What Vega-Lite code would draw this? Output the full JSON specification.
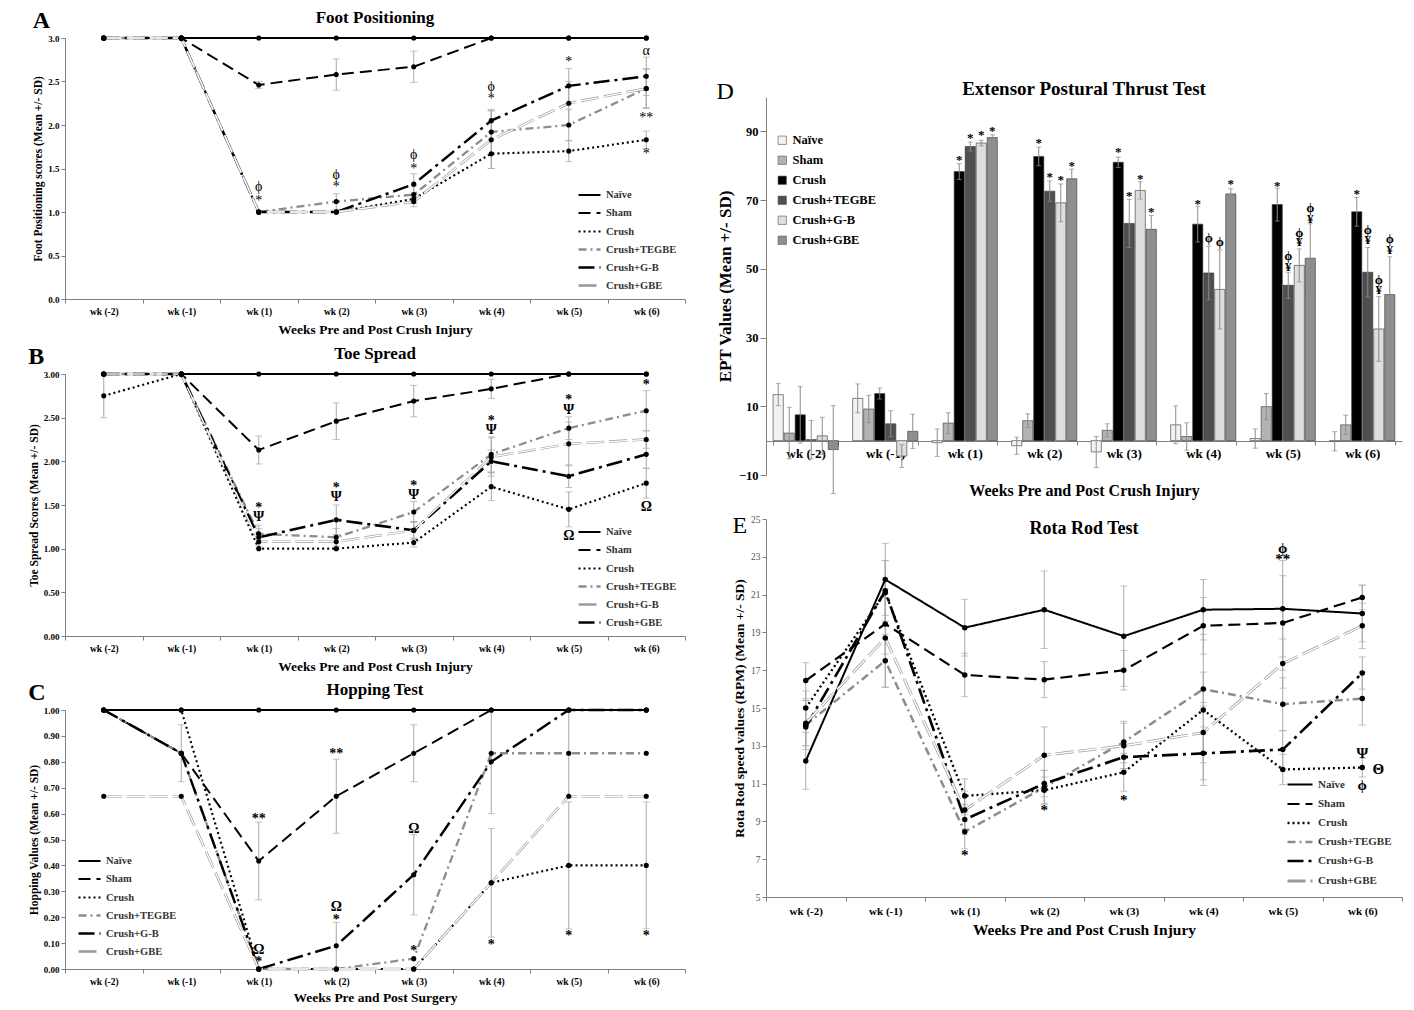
{
  "$schema": "https://vega.github.io/schema/vega-lite/v6.json",
  "background": "white",
  "padding": {"left": 28, "top": 8, "right": 5, "bottom": 3},
  "config": {
    "font": "Liberation Serif",
    "view": {"stroke": null},
    "axis": {"labelFont": "Liberation Serif", "titleFont": "Liberation Serif", "labelFontWeight": "bold", "titleFontWeight": "bold", "labelColor": "#000", "titleColor": "#000", "domainColor": "#808080", "tickColor": "#808080", "grid": false, "labelFontSize": 9.5, "titleFontSize": 12, "tickSize": 4},
    "title": {"font": "Liberation Serif", "fontWeight": "bold", "color": "#000"},
    "legend": {"labelFont": "Liberation Serif", "labelFontWeight": "bold", "labelColor": "#333"},
    "text": {"font": "Liberation Serif", "color": "#000"}
  },
  "datasets": {
    "A": [
      {"w":"wk (-2)","s":"Naïve","v":3,"e":0},{"w":"wk (-1)","s":"Naïve","v":3,"e":0},{"w":"wk (1)","s":"Naïve","v":3,"e":0},{"w":"wk (2)","s":"Naïve","v":3,"e":0},{"w":"wk (3)","s":"Naïve","v":3,"e":0},{"w":"wk (4)","s":"Naïve","v":3,"e":0},{"w":"wk (5)","s":"Naïve","v":3,"e":0},{"w":"wk (6)","s":"Naïve","v":3,"e":0},
      {"w":"wk (-2)","s":"Sham","v":3,"e":0},{"w":"wk (-1)","s":"Sham","v":3,"e":0},{"w":"wk (1)","s":"Sham","v":2.46,"e":0.04},{"w":"wk (2)","s":"Sham","v":2.58,"e":0.18},{"w":"wk (3)","s":"Sham","v":2.67,"e":0.18},{"w":"wk (4)","s":"Sham","v":3,"e":0},{"w":"wk (5)","s":"Sham","v":3,"e":0},{"w":"wk (6)","s":"Sham","v":3,"e":0},
      {"w":"wk (-2)","s":"Crush","v":3,"e":0},{"w":"wk (-1)","s":"Crush","v":3,"e":0},{"w":"wk (1)","s":"Crush","v":1,"e":0},{"w":"wk (2)","s":"Crush","v":1,"e":0},{"w":"wk (3)","s":"Crush","v":1.15,"e":0.05},{"w":"wk (4)","s":"Crush","v":1.67,"e":0.17},{"w":"wk (5)","s":"Crush","v":1.7,"e":0.12},{"w":"wk (6)","s":"Crush","v":1.83,"e":0.1},
      {"w":"wk (-2)","s":"Crush+TEGBE","v":3,"e":0},{"w":"wk (-1)","s":"Crush+TEGBE","v":3,"e":0},{"w":"wk (1)","s":"Crush+TEGBE","v":1,"e":0},{"w":"wk (2)","s":"Crush+TEGBE","v":1.12,"e":0.09},{"w":"wk (3)","s":"Crush+TEGBE","v":1.2,"e":0.1},{"w":"wk (4)","s":"Crush+TEGBE","v":1.92,"e":0.25},{"w":"wk (5)","s":"Crush+TEGBE","v":2.0,"e":0.18},{"w":"wk (6)","s":"Crush+TEGBE","v":2.42,"e":0.22},
      {"w":"wk (-2)","s":"Crush+G-B","v":3,"e":0},{"w":"wk (-1)","s":"Crush+G-B","v":3,"e":0},{"w":"wk (1)","s":"Crush+G-B","v":1,"e":0},{"w":"wk (2)","s":"Crush+G-B","v":1,"e":0},{"w":"wk (3)","s":"Crush+G-B","v":1.32,"e":0.12},{"w":"wk (4)","s":"Crush+G-B","v":2.05,"e":0.13},{"w":"wk (5)","s":"Crush+G-B","v":2.45,"e":0.2},{"w":"wk (6)","s":"Crush+G-B","v":2.56,"e":0.22},
      {"w":"wk (-2)","s":"Crush+GBE","v":3,"e":0},{"w":"wk (-1)","s":"Crush+GBE","v":3,"e":0},{"w":"wk (1)","s":"Crush+GBE","v":1,"e":0},{"w":"wk (2)","s":"Crush+GBE","v":1,"e":0},{"w":"wk (3)","s":"Crush+GBE","v":1.12,"e":0.06},{"w":"wk (4)","s":"Crush+GBE","v":1.83,"e":0.33},{"w":"wk (5)","s":"Crush+GBE","v":2.25,"e":0.25},{"w":"wk (6)","s":"Crush+GBE","v":2.42,"e":0.23}
    ],
    "annA": [
      {"w":"wk (1)","v":1.29,"t":"ϕ"},{"w":"wk (1)","v":1.13,"t":"*"},{"w":"wk (2)","v":1.42,"t":"ϕ"},{"w":"wk (2)","v":1.29,"t":"*"},{"w":"wk (3)","v":1.66,"t":"ϕ"},{"w":"wk (3)","v":1.5,"t":"*"},{"w":"wk (4)","v":2.44,"t":"ϕ"},{"w":"wk (4)","v":2.3,"t":"*"},{"w":"wk (5)","v":2.72,"t":"*"},{"w":"wk (6)","v":2.85,"t":"α"},{"w":"wk (6)","v":2.08,"t":"**"},{"w":"wk (6)","v":1.67,"t":"*"}
    ],
    "B": [
      {"w":"wk (-2)","s":"Naïve","v":3,"e":0},{"w":"wk (-1)","s":"Naïve","v":3,"e":0},{"w":"wk (1)","s":"Naïve","v":3,"e":0},{"w":"wk (2)","s":"Naïve","v":3,"e":0},{"w":"wk (3)","s":"Naïve","v":3,"e":0},{"w":"wk (4)","s":"Naïve","v":3,"e":0},{"w":"wk (5)","s":"Naïve","v":3,"e":0},{"w":"wk (6)","s":"Naïve","v":3,"e":0},
      {"w":"wk (-2)","s":"Sham","v":3,"e":0},{"w":"wk (-1)","s":"Sham","v":3,"e":0},{"w":"wk (1)","s":"Sham","v":2.13,"e":0.16},{"w":"wk (2)","s":"Sham","v":2.46,"e":0.21},{"w":"wk (3)","s":"Sham","v":2.69,"e":0.18},{"w":"wk (4)","s":"Sham","v":2.83,"e":0.11},{"w":"wk (5)","s":"Sham","v":3,"e":0},{"w":"wk (6)","s":"Sham","v":3,"e":0},
      {"w":"wk (-2)","s":"Crush","v":2.75,"e":0.25},{"w":"wk (-1)","s":"Crush","v":3,"e":0},{"w":"wk (1)","s":"Crush","v":1,"e":0},{"w":"wk (2)","s":"Crush","v":1,"e":0},{"w":"wk (3)","s":"Crush","v":1.07,"e":0.05},{"w":"wk (4)","s":"Crush","v":1.71,"e":0.16},{"w":"wk (5)","s":"Crush","v":1.45,"e":0.2},{"w":"wk (6)","s":"Crush","v":1.75,"e":0.17},
      {"w":"wk (-2)","s":"Crush+TEGBE","v":3,"e":0},{"w":"wk (-1)","s":"Crush+TEGBE","v":3,"e":0},{"w":"wk (1)","s":"Crush+TEGBE","v":1.17,"e":0.1},{"w":"wk (2)","s":"Crush+TEGBE","v":1.13,"e":0.1},{"w":"wk (3)","s":"Crush+TEGBE","v":1.42,"e":0.12},{"w":"wk (4)","s":"Crush+TEGBE","v":2.08,"e":0.2},{"w":"wk (5)","s":"Crush+TEGBE","v":2.38,"e":0.13},{"w":"wk (6)","s":"Crush+TEGBE","v":2.58,"e":0.23},
      {"w":"wk (-2)","s":"Crush+G-B","v":3,"e":0},{"w":"wk (-1)","s":"Crush+G-B","v":3,"e":0},{"w":"wk (1)","s":"Crush+G-B","v":1.08,"e":0.08},{"w":"wk (2)","s":"Crush+G-B","v":1.08,"e":0.08},{"w":"wk (3)","s":"Crush+G-B","v":1.21,"e":0.1},{"w":"wk (4)","s":"Crush+G-B","v":2.05,"e":0.22},{"w":"wk (5)","s":"Crush+G-B","v":2.2,"e":0.25},{"w":"wk (6)","s":"Crush+G-B","v":2.25,"e":0.1},
      {"w":"wk (-2)","s":"Crush+GBE","v":3,"e":0},{"w":"wk (-1)","s":"Crush+GBE","v":3,"e":0},{"w":"wk (1)","s":"Crush+GBE","v":1.13,"e":0.1},{"w":"wk (2)","s":"Crush+GBE","v":1.33,"e":0.17},{"w":"wk (3)","s":"Crush+GBE","v":1.21,"e":0.1},{"w":"wk (4)","s":"Crush+GBE","v":2.0,"e":0.13},{"w":"wk (5)","s":"Crush+GBE","v":1.83,"e":0.13},{"w":"wk (6)","s":"Crush+GBE","v":2.08,"e":0.16}
    ],
    "annB": [
      {"w":"wk (1)","v":1.47,"t":"*"},{"w":"wk (1)","v":1.36,"t":"Ψ"},{"w":"wk (2)","v":1.69,"t":"*"},{"w":"wk (2)","v":1.59,"t":"Ψ"},{"w":"wk (3)","v":1.72,"t":"*"},{"w":"wk (3)","v":1.61,"t":"Ψ"},{"w":"wk (4)","v":2.46,"t":"*"},{"w":"wk (4)","v":2.36,"t":"Ψ"},{"w":"wk (5)","v":2.7,"t":"*"},{"w":"wk (5)","v":2.59,"t":"Ψ"},{"w":"wk (5)","v":1.15,"t":"Ω"},{"w":"wk (6)","v":2.87,"t":"*"},{"w":"wk (6)","v":1.48,"t":"Ω"}
    ],
    "C": [
      {"w":"wk (-2)","s":"Naïve","v":1,"e":0},{"w":"wk (-1)","s":"Naïve","v":1,"e":0},{"w":"wk (1)","s":"Naïve","v":1,"e":0},{"w":"wk (2)","s":"Naïve","v":1,"e":0},{"w":"wk (3)","s":"Naïve","v":1,"e":0},{"w":"wk (4)","s":"Naïve","v":1,"e":0},{"w":"wk (5)","s":"Naïve","v":1,"e":0},{"w":"wk (6)","s":"Naïve","v":1,"e":0},
      {"w":"wk (-2)","s":"Sham","v":1,"e":0},{"w":"wk (-1)","s":"Sham","v":0.833,"e":0.11},{"w":"wk (1)","s":"Sham","v":0.417,"e":0.15},{"w":"wk (2)","s":"Sham","v":0.667,"e":0.143},{"w":"wk (3)","s":"Sham","v":0.833,"e":0.11},{"w":"wk (4)","s":"Sham","v":1,"e":0},{"w":"wk (5)","s":"Sham","v":1,"e":0},{"w":"wk (6)","s":"Sham","v":1,"e":0},
      {"w":"wk (-2)","s":"Crush","v":1,"e":0},{"w":"wk (-1)","s":"Crush","v":1,"e":0},{"w":"wk (1)","s":"Crush","v":0,"e":0},{"w":"wk (2)","s":"Crush","v":0,"e":0},{"w":"wk (3)","s":"Crush","v":0,"e":0},{"w":"wk (4)","s":"Crush","v":0.333,"e":0.21},{"w":"wk (5)","s":"Crush","v":0.4,"e":0.245},{"w":"wk (6)","s":"Crush","v":0.4,"e":0.245},
      {"w":"wk (-2)","s":"Crush+TEGBE","v":1,"e":0},{"w":"wk (-1)","s":"Crush+TEGBE","v":0.833,"e":0},{"w":"wk (1)","s":"Crush+TEGBE","v":0,"e":0},{"w":"wk (2)","s":"Crush+TEGBE","v":0,"e":0},{"w":"wk (3)","s":"Crush+TEGBE","v":0.04,"e":0},{"w":"wk (4)","s":"Crush+TEGBE","v":0.833,"e":0},{"w":"wk (5)","s":"Crush+TEGBE","v":0.833,"e":0.17},{"w":"wk (6)","s":"Crush+TEGBE","v":0.833,"e":0},
      {"w":"wk (-2)","s":"Crush+G-B","v":1,"e":0},{"w":"wk (-1)","s":"Crush+G-B","v":0.833,"e":0},{"w":"wk (1)","s":"Crush+G-B","v":0,"e":0},{"w":"wk (2)","s":"Crush+G-B","v":0.09,"e":0.09},{"w":"wk (3)","s":"Crush+G-B","v":0.364,"e":0.155},{"w":"wk (4)","s":"Crush+G-B","v":0.8,"e":0.2},{"w":"wk (5)","s":"Crush+G-B","v":1,"e":0},{"w":"wk (6)","s":"Crush+G-B","v":1,"e":0},
      {"w":"wk (-2)","s":"Crush+GBE","v":0.667,"e":0},{"w":"wk (-1)","s":"Crush+GBE","v":0.667,"e":0},{"w":"wk (1)","s":"Crush+GBE","v":0,"e":0},{"w":"wk (2)","s":"Crush+GBE","v":0,"e":0},{"w":"wk (3)","s":"Crush+GBE","v":0,"e":0},{"w":"wk (4)","s":"Crush+GBE","v":0.333,"e":0},{"w":"wk (5)","s":"Crush+GBE","v":0.667,"e":0},{"w":"wk (6)","s":"Crush+GBE","v":0.667,"e":0}
    ],
    "annC": [
      {"w":"wk (1)","v":0.58,"t":"**"},{"w":"wk (1)","v":0.072,"t":"Ω"},{"w":"wk (1)","v":0.026,"t":"*"},{"w":"wk (2)","v":0.83,"t":"**"},{"w":"wk (2)","v":0.24,"t":"Ω"},{"w":"wk (2)","v":0.19,"t":"*"},{"w":"wk (3)","v":0.54,"t":"Ω"},{"w":"wk (3)","v":0.068,"t":"*"},{"w":"wk (4)","v":0.094,"t":"*"},{"w":"wk (5)","v":0.126,"t":"*"},{"w":"wk (6)","v":0.126,"t":"*"}
    ],
    "D": [
      {"w":"wk (-2)","s":"Naïve","v":13.4,"e":3.2},{"w":"wk (-2)","s":"Sham","v":2.2,"e":7.5},{"w":"wk (-2)","s":"Crush","v":7.5,"e":8.2},{"w":"wk (-2)","s":"Crush+TEGBE","v":0.3,"e":5.6},{"w":"wk (-2)","s":"Crush+G-B","v":1.4,"e":5.4},{"w":"wk (-2)","s":"Crush+GBE","v":-2.6,"e":12.8},
      {"w":"wk (-1)","s":"Naïve","v":12.3,"e":4.2},{"w":"wk (-1)","s":"Sham","v":9.2,"e":4},{"w":"wk (-1)","s":"Crush","v":13.7,"e":1.6},{"w":"wk (-1)","s":"Crush+TEGBE","v":4.9,"e":3.8},{"w":"wk (-1)","s":"Crush+G-B","v":-4.5,"e":3.3},{"w":"wk (-1)","s":"Crush+GBE","v":2.7,"e":5},
      {"w":"wk (1)","s":"Naïve","v":-0.6,"e":4},{"w":"wk (1)","s":"Sham","v":5.1,"e":3},{"w":"wk (1)","s":"Crush","v":78.3,"e":2.3},{"w":"wk (1)","s":"Crush+TEGBE","v":85.6,"e":1.3},{"w":"wk (1)","s":"Crush+G-B","v":86.6,"e":0.8},{"w":"wk (1)","s":"Crush+GBE","v":88.2,"e":0.8},
      {"w":"wk (2)","s":"Naïve","v":-1.5,"e":2.5},{"w":"wk (2)","s":"Sham","v":5.8,"e":2},{"w":"wk (2)","s":"Crush","v":82.7,"e":2.7},{"w":"wk (2)","s":"Crush+TEGBE","v":72.6,"e":3},{"w":"wk (2)","s":"Crush+G-B","v":69.2,"e":5.5},{"w":"wk (2)","s":"Crush+GBE","v":76.2,"e":2.8},
      {"w":"wk (3)","s":"Naïve","v":-3.3,"e":4.5},{"w":"wk (3)","s":"Sham","v":3,"e":1.9},{"w":"wk (3)","s":"Crush","v":81,"e":1.5},{"w":"wk (3)","s":"Crush+TEGBE","v":63.2,"e":7},{"w":"wk (3)","s":"Crush+G-B","v":72.8,"e":2.5},{"w":"wk (3)","s":"Crush+GBE","v":61.5,"e":4},
      {"w":"wk (4)","s":"Naïve","v":4.6,"e":5.5},{"w":"wk (4)","s":"Sham","v":1.2,"e":4},{"w":"wk (4)","s":"Crush","v":63,"e":5.2},{"w":"wk (4)","s":"Crush+TEGBE","v":48.8,"e":7.8},{"w":"wk (4)","s":"Crush+G-B","v":44,"e":11.5},{"w":"wk (4)","s":"Crush+GBE","v":71.8,"e":1.5},
      {"w":"wk (5)","s":"Naïve","v":0.6,"e":2.8},{"w":"wk (5)","s":"Sham","v":9.9,"e":3.8},{"w":"wk (5)","s":"Crush","v":68.7,"e":4.8},{"w":"wk (5)","s":"Crush+TEGBE","v":45.2,"e":3.8},{"w":"wk (5)","s":"Crush+G-B","v":51,"e":4.8},{"w":"wk (5)","s":"Crush+GBE","v":53.1,"e":10},
      {"w":"wk (6)","s":"Naïve","v":-0.2,"e":2.8},{"w":"wk (6)","s":"Sham","v":4.6,"e":2.8},{"w":"wk (6)","s":"Crush","v":66.6,"e":4.2},{"w":"wk (6)","s":"Crush+TEGBE","v":49,"e":7.2},{"w":"wk (6)","s":"Crush+G-B","v":32.5,"e":9.4},{"w":"wk (6)","s":"Crush+GBE","v":42.5,"e":11}
    ],
    "annD": [
      {"w":"wk (1)","s":"Crush","v":81.7,"t":"*"},{"w":"wk (1)","s":"Crush+TEGBE","v":88,"t":"*"},{"w":"wk (1)","s":"Crush+G-B","v":89,"t":"*"},{"w":"wk (1)","s":"Crush+GBE","v":90.1,"t":"*"},
      {"w":"wk (2)","s":"Crush","v":86.5,"t":"*"},{"w":"wk (2)","s":"Crush+TEGBE","v":76.7,"t":"*"},{"w":"wk (2)","s":"Crush+G-B","v":75.9,"t":"*"},{"w":"wk (2)","s":"Crush+GBE","v":80,"t":"*"},
      {"w":"wk (3)","s":"Crush","v":83.9,"t":"*"},{"w":"wk (3)","s":"Crush+TEGBE","v":71.1,"t":"*"},{"w":"wk (3)","s":"Crush+G-B","v":76.2,"t":"*"},{"w":"wk (3)","s":"Crush+GBE","v":66.4,"t":"*"},
      {"w":"wk (4)","s":"Crush","v":69,"t":"*"},{"w":"wk (4)","s":"Crush+TEGBE","v":58.9,"t":"ϕ"},{"w":"wk (4)","s":"Crush+G-B","v":57.7,"t":"ϕ"},{"w":"wk (4)","s":"Crush+GBE","v":74.7,"t":"*"},
      {"w":"wk (5)","s":"Crush","v":74.1,"t":"*"},{"w":"wk (5)","s":"Crush+TEGBE","v":53.6,"t":"ϕ"},{"w":"wk (5)","s":"Crush+TEGBE","v":50.4,"t":"¥"},{"w":"wk (5)","s":"Crush+G-B","v":60.5,"t":"ϕ"},{"w":"wk (5)","s":"Crush+G-B","v":57.9,"t":"¥"},{"w":"wk (5)","s":"Crush+GBE","v":67.7,"t":"ϕ"},{"w":"wk (5)","s":"Crush+GBE","v":64.4,"t":"¥"},
      {"w":"wk (6)","s":"Crush","v":71.8,"t":"*"},{"w":"wk (6)","s":"Crush+TEGBE","v":61.3,"t":"ϕ"},{"w":"wk (6)","s":"Crush+TEGBE","v":58.4,"t":"¥"},{"w":"wk (6)","s":"Crush+G-B","v":46.7,"t":"ϕ"},{"w":"wk (6)","s":"Crush+G-B","v":43.7,"t":"¥"},{"w":"wk (6)","s":"Crush+GBE","v":58.7,"t":"ϕ"},{"w":"wk (6)","s":"Crush+GBE","v":55.5,"t":"¥"}
    ],
    "E": [
      {"w":"wk (-2)","s":"Naïve","v":12.2,"e":1.5},{"w":"wk (-1)","s":"Naïve","v":21.8,"e":1.9},{"w":"wk (1)","s":"Naïve","v":19.25,"e":1.5},{"w":"wk (2)","s":"Naïve","v":20.2,"e":2.05},{"w":"wk (3)","s":"Naïve","v":18.8,"e":2.65},{"w":"wk (4)","s":"Naïve","v":20.2,"e":1.6},{"w":"wk (5)","s":"Naïve","v":20.25,"e":2.55},{"w":"wk (6)","s":"Naïve","v":20.0,"e":1.5},
      {"w":"wk (-2)","s":"Sham","v":16.45,"e":0.95},{"w":"wk (-1)","s":"Sham","v":19.45,"e":1.6},{"w":"wk (1)","s":"Sham","v":16.75,"e":1.15},{"w":"wk (2)","s":"Sham","v":16.5,"e":0.95},{"w":"wk (3)","s":"Sham","v":17.0,"e":1.05},{"w":"wk (4)","s":"Sham","v":19.35,"e":1.5},{"w":"wk (5)","s":"Sham","v":19.5,"e":2.5},{"w":"wk (6)","s":"Sham","v":20.85,"e":0.65},
      {"w":"wk (-2)","s":"Crush","v":15.0,"e":0.9},{"w":"wk (-1)","s":"Crush","v":21.1,"e":1.7},{"w":"wk (1)","s":"Crush","v":10.35,"e":0.9},{"w":"wk (2)","s":"Crush","v":10.65,"e":0.7},{"w":"wk (3)","s":"Crush","v":11.6,"e":1.0},{"w":"wk (4)","s":"Crush","v":14.9,"e":4.0},{"w":"wk (5)","s":"Crush","v":11.75,"e":0.8},{"w":"wk (6)","s":"Crush","v":11.85,"e":0.5},
      {"w":"wk (-2)","s":"Crush+TEGBE","v":14.1,"e":1.3},{"w":"wk (-1)","s":"Crush+TEGBE","v":17.5,"e":1.4},{"w":"wk (1)","s":"Crush+TEGBE","v":8.45,"e":0.9},{"w":"wk (2)","s":"Crush+TEGBE","v":10.8,"e":0.9},{"w":"wk (3)","s":"Crush+TEGBE","v":13.2,"e":1.1},{"w":"wk (4)","s":"Crush+TEGBE","v":16.0,"e":0.9},{"w":"wk (5)","s":"Crush+TEGBE","v":15.2,"e":1.4},{"w":"wk (6)","s":"Crush+TEGBE","v":15.5,"e":1.4},
      {"w":"wk (-2)","s":"Crush+G-B","v":14.0,"e":1.0},{"w":"wk (-1)","s":"Crush+G-B","v":21.2,"e":1.6},{"w":"wk (1)","s":"Crush+G-B","v":9.1,"e":0.8},{"w":"wk (2)","s":"Crush+G-B","v":11.0,"e":0.7},{"w":"wk (3)","s":"Crush+G-B","v":12.4,"e":0.6},{"w":"wk (4)","s":"Crush+G-B","v":12.6,"e":1.4},{"w":"wk (5)","s":"Crush+G-B","v":12.8,"e":1.0},{"w":"wk (6)","s":"Crush+G-B","v":16.85,"e":0.85},
      {"w":"wk (-2)","s":"Crush+GBE","v":14.2,"e":1.2},{"w":"wk (-1)","s":"Crush+GBE","v":18.7,"e":2.6},{"w":"wk (1)","s":"Crush+GBE","v":9.6,"e":1.0},{"w":"wk (2)","s":"Crush+GBE","v":12.5,"e":1.5},{"w":"wk (3)","s":"Crush+GBE","v":13.0,"e":1.2},{"w":"wk (4)","s":"Crush+GBE","v":13.7,"e":1.6},{"w":"wk (5)","s":"Crush+GBE","v":17.35,"e":1.3},{"w":"wk (6)","s":"Crush+GBE","v":19.35,"e":1.2}
    ],
    "annE": [
      {"w":"wk (1)","v":7.2,"t":"*"},{"w":"wk (2)","v":9.6,"t":"*"},{"w":"wk (3)","v":10.15,"t":"*"},{"w":"wk (5)","v":23.47,"t":"ϕ"},{"w":"wk (5)","v":22.9,"t":"**"},{"w":"wk (6)","v":12.6,"t":"Ψ"},{"w":"wk (6)","v":10.9,"t":"ϕ"}
    ],
    "annE2": [
      {"w":"wk (6)","v":11.75,"t":"Θ"}
    ]
  },
  "resolve": {"scale": {"x": "independent", "y": "independent", "color": "independent", "strokeDash": "independent", "strokeWidth": "independent", "fill": "independent"}, "legend": {"color": "independent", "strokeDash": "independent", "strokeWidth": "independent", "fill": "independent"}},
  "spacing": 30,
  "hconcat": [
    {
      "spacing": 8,
      "resolve": {"scale": {"x": "independent", "y": "independent", "color": "independent", "strokeDash": "independent", "strokeWidth": "independent", "fill": "independent"}, "legend": {"color": "independent", "strokeDash": "independent", "strokeWidth": "independent", "fill": "independent"}},
      "vconcat": [
        {
          "title": {"text": "A", "anchor": "start", "fontSize": 24, "offset": -24},
          "resolve": {"scale": {"x": "independent", "y": "independent", "color": "independent", "strokeDash": "independent", "strokeWidth": "independent"}, "legend": {"color": "independent", "strokeDash": "independent", "strokeWidth": "independent"}},
          "vconcat": [{
            "width": 620, "height": 261,
            "title": {"text": "Foot Positioning", "fontSize": 17, "offset": 6},
            "data": {"name": "A"},
            "encoding": {
              "x": {"field": "w", "type": "ordinal", "bandPosition": 0.5, "scale": {"type": "band", "domain": ["wk (-2)","wk (-1)","wk (1)","wk (2)","wk (3)","wk (4)","wk (5)","wk (6)"], "paddingInner": 0, "paddingOuter": 0}, "axis": {"title": "Weeks Pre and Post Crush Injury", "labelAngle": 0, "tickBand": "extent", "titleFontSize": 13.5, "titlePadding": 7, "labelPadding": 3}},
              "y": {"field": "v", "type": "quantitative", "scale": {"domain": [0, 3], "nice": false}, "axis": {"title": "Foot Positioning scores (Mean +/- SD)", "values": [0, 0.5, 1, 1.5, 2, 2.5, 3], "format": ".1f", "labelFontSize": 9, "titleFontSize": 11.5}}
            },
            "layer": [
              {"transform": [{"filter": "datum.e > 0"}], "mark": {"type": "errorbar", "ticks": {"size": 7}, "color": "#a8a8a8"}, "encoding": {"yError": {"field": "e"}}},
              {"mark": {"type": "line"}, "encoding": {
                "color": {"field": "s", "type": "nominal", "scale": {"domain": ["Naïve","Sham","Crush","Crush+TEGBE","Crush+G-B","Crush+GBE"], "range": ["#000","#000","#000","#8c8c8c","#000","#9a9a9a"]}, "legend": {"title": null, "orient": "bottom-right", "offset": 8, "symbolType": "stroke", "symbolSize": 484, "labelFontSize": 10.5, "rowPadding": -12}},
                "strokeDash": {"field": "s", "type": "nominal", "scale": {"domain": ["Naïve","Sham","Crush","Crush+TEGBE","Crush+G-B","Crush+GBE"], "range": [[1,0],[12,6],[2,3],[8,4,2,4],[16,5,3,5],[18,5]]}, "legend": {"title": null, "orient": "bottom-right", "offset": 8, "symbolType": "stroke", "symbolSize": 484, "labelFontSize": 10.5, "rowPadding": -12}},
                "strokeWidth": {"field": "s", "type": "nominal", "scale": {"domain": ["Naïve","Sham","Crush","Crush+TEGBE","Crush+G-B","Crush+GBE"], "range": [1.8,2.6,1.6,2,2.2,4]}, "legend": {"title": null, "orient": "bottom-right", "offset": 8, "symbolType": "stroke", "symbolSize": 484, "labelFontSize": 10.5, "rowPadding": -12}}
              }},
              {"transform": [{"filter": "datum.s == 'Crush+GBE'"}], "mark": {"type": "line", "color": "white", "strokeWidth": 1.3, "strokeDash": [18,5]}},
              {"mark": {"type": "circle", "color": "#000", "size": 26, "opacity": 1}, "encoding": {"detail": {"field": "s"}}},
              {"data": {"name": "annA"}, "mark": {"type": "text", "fontSize": 14, "baseline": "middle", "color": "#000"}, "encoding": {"text": {"field": "t"}}}
            ]
          }]
        },
        {
          "title": {"text": "B", "anchor": "start", "fontSize": 24, "offset": -24},
          "resolve": {"scale": {"x": "independent", "y": "independent", "color": "independent", "strokeDash": "independent", "strokeWidth": "independent"}, "legend": {"color": "independent", "strokeDash": "independent", "strokeWidth": "independent"}},
          "vconcat": [{
            "width": 620, "height": 262,
            "title": {"text": "Toe Spread", "fontSize": 17, "offset": 6},
            "data": {"name": "B"},
            "encoding": {
              "x": {"field": "w", "type": "ordinal", "bandPosition": 0.5, "scale": {"type": "band", "domain": ["wk (-2)","wk (-1)","wk (1)","wk (2)","wk (3)","wk (4)","wk (5)","wk (6)"], "paddingInner": 0, "paddingOuter": 0}, "axis": {"title": "Weeks Pre and Post Crush Injury", "labelAngle": 0, "tickBand": "extent", "titleFontSize": 13.5, "titlePadding": 7, "labelPadding": 3}},
              "y": {"field": "v", "type": "quantitative", "scale": {"domain": [0, 3], "nice": false}, "axis": {"title": "Toe Spread Scores (Mean +/- SD)", "values": [0, 0.5, 1, 1.5, 2, 2.5, 3], "format": ".2f", "labelFontSize": 9, "titleFontSize": 11.5}}
            },
            "layer": [
              {"transform": [{"filter": "datum.e > 0"}], "mark": {"type": "errorbar", "ticks": {"size": 7}, "color": "#a8a8a8"}, "encoding": {"yError": {"field": "e"}}},
              {"mark": {"type": "line"}, "encoding": {
                "color": {"field": "s", "type": "nominal", "scale": {"domain": ["Naïve","Sham","Crush","Crush+TEGBE","Crush+G-B","Crush+GBE"], "range": ["#000","#000","#000","#8c8c8c","#9a9a9a","#000"]}, "legend": {"title": null, "orient": "bottom-right", "offset": 8, "symbolType": "stroke", "symbolSize": 484, "labelFontSize": 10.5, "rowPadding": -12}},
                "strokeDash": {"field": "s", "type": "nominal", "scale": {"domain": ["Naïve","Sham","Crush","Crush+TEGBE","Crush+G-B","Crush+GBE"], "range": [[1,0],[12,6],[2,3],[8,4,2,4],[18,5],[16,5,3,5]]}, "legend": {"title": null, "orient": "bottom-right", "offset": 8, "symbolType": "stroke", "symbolSize": 484, "labelFontSize": 10.5, "rowPadding": -12}},
                "strokeWidth": {"field": "s", "type": "nominal", "scale": {"domain": ["Naïve","Sham","Crush","Crush+TEGBE","Crush+G-B","Crush+GBE"], "range": [1.8,2.6,1.6,2,4,2.4]}, "legend": {"title": null, "orient": "bottom-right", "offset": 8, "symbolType": "stroke", "symbolSize": 484, "labelFontSize": 10.5, "rowPadding": -12}}
              }},
              {"transform": [{"filter": "datum.s == 'Crush+G-B'"}], "mark": {"type": "line", "color": "white", "strokeWidth": 1.3, "strokeDash": [18,5]}},
              {"mark": {"type": "circle", "color": "#000", "size": 26, "opacity": 1}, "encoding": {"detail": {"field": "s"}}},
              {"data": {"name": "annB"}, "mark": {"type": "text", "fontSize": 14, "fontWeight": "bold", "baseline": "middle", "color": "#000"}, "encoding": {"text": {"field": "t"}}}
            ]
          }]
        },
        {
          "title": {"text": "C", "anchor": "start", "fontSize": 24, "offset": -24},
          "resolve": {"scale": {"x": "independent", "y": "independent", "color": "independent", "strokeDash": "independent", "strokeWidth": "independent"}, "legend": {"color": "independent", "strokeDash": "independent", "strokeWidth": "independent"}},
          "vconcat": [{
            "width": 620, "height": 259,
            "title": {"text": "Hopping Test", "fontSize": 17, "offset": 6},
            "data": {"name": "C"},
            "encoding": {
              "x": {"field": "w", "type": "ordinal", "bandPosition": 0.5, "scale": {"type": "band", "domain": ["wk (-2)","wk (-1)","wk (1)","wk (2)","wk (3)","wk (4)","wk (5)","wk (6)"], "paddingInner": 0, "paddingOuter": 0}, "axis": {"title": "Weeks Pre and Post Surgery", "labelAngle": 0, "tickBand": "extent", "titleFontSize": 13.5, "titlePadding": 5, "labelPadding": 3}},
              "y": {"field": "v", "type": "quantitative", "scale": {"domain": [0, 1], "nice": false}, "axis": {"title": "Hopping Values (Mean +/- SD)", "values": [0, 0.1, 0.2, 0.3, 0.4, 0.5, 0.6, 0.7, 0.8, 0.9, 1], "format": ".2f", "labelFontSize": 9, "titleFontSize": 11.5}}
            },
            "layer": [
              {"transform": [{"filter": "datum.e > 0"}], "mark": {"type": "errorbar", "ticks": {"size": 7}, "color": "#a8a8a8"}, "encoding": {"yError": {"field": "e"}}},
              {"mark": {"type": "line"}, "encoding": {
                "color": {"field": "s", "type": "nominal", "scale": {"domain": ["Naïve","Sham","Crush","Crush+TEGBE","Crush+G-B","Crush+GBE"], "range": ["#000","#000","#000","#8c8c8c","#000","#9a9a9a"]}, "legend": {"title": null, "orient": "bottom-left", "offset": 12, "symbolType": "stroke", "symbolSize": 484, "labelFontSize": 10.5, "rowPadding": -12}},
                "strokeDash": {"field": "s", "type": "nominal", "scale": {"domain": ["Naïve","Sham","Crush","Crush+TEGBE","Crush+G-B","Crush+GBE"], "range": [[1,0],[12,6],[2,3],[8,4,2,4],[16,5,3,5],[18,5]]}, "legend": {"title": null, "orient": "bottom-left", "offset": 12, "symbolType": "stroke", "symbolSize": 484, "labelFontSize": 10.5, "rowPadding": -12}},
                "strokeWidth": {"field": "s", "type": "nominal", "scale": {"domain": ["Naïve","Sham","Crush","Crush+TEGBE","Crush+G-B","Crush+GBE"], "range": [1.8,2.6,1.6,2,2.2,4]}, "legend": {"title": null, "orient": "bottom-left", "offset": 12, "symbolType": "stroke", "symbolSize": 484, "labelFontSize": 10.5, "rowPadding": -12}}
              }},
              {"transform": [{"filter": "datum.s == 'Crush+GBE'"}], "mark": {"type": "line", "color": "white", "strokeWidth": 1.3, "strokeDash": [18,5]}},
              {"mark": {"type": "circle", "color": "#000", "size": 26, "opacity": 1}, "encoding": {"detail": {"field": "s"}}},
              {"data": {"name": "annC"}, "mark": {"type": "text", "fontSize": 14, "fontWeight": "bold", "baseline": "middle", "color": "#000"}, "encoding": {"text": {"field": "t"}}}
            ]
          }]
        }
      ]
    },
    {
      "spacing": 16,
      "resolve": {"scale": {"x": "independent", "y": "independent", "color": "independent", "strokeDash": "independent", "strokeWidth": "independent", "fill": "independent"}, "legend": {"color": "independent", "strokeDash": "independent", "strokeWidth": "independent", "fill": "independent"}},
      "vconcat": [
        {"width": 636, "height": 26, "data": {"values": []}, "mark": "point"},
        {
          "title": {"text": "D", "anchor": "start", "fontSize": 24, "fontWeight": "normal", "offset": -24},
          "resolve": {"scale": {"x": "independent", "y": "independent", "fill": "independent"}, "legend": {"fill": "independent"}},
          "vconcat": [{
            "width": 636, "height": 378,
            "title": {"text": "Extensor Postural Thrust Test", "fontSize": 19, "offset": -2},
            "data": {"name": "D"},
            "encoding": {
              "x": {"field": "w", "type": "ordinal", "scale": {"type": "band", "domain": ["wk (-2)","wk (-1)","wk (1)","wk (2)","wk (3)","wk (4)","wk (5)","wk (6)"], "paddingInner": 0.18, "paddingOuter": 0.09}, "axis": {"title": "Weeks Pre and Post Crush Injury", "labelAngle": 0, "tickBand": "extent", "offset": -34, "labelFontSize": 13, "titleFontSize": 16, "titlePadding": 22, "labelPadding": 2}},
              "xOffset": {"field": "s", "type": "nominal", "scale": {"domain": ["Naïve","Sham","Crush","Crush+TEGBE","Crush+G-B","Crush+GBE"], "paddingInner": 0.08}},
              "y": {"field": "v", "type": "quantitative", "scale": {"domain": [-10, 100], "nice": false}, "axis": {"title": "EPT Values (Mean +/- SD)", "values": [-10, 10, 30, 50, 70, 90], "labelFontSize": 12.5, "titleFontSize": 17, "tickSize": 6}}
            },
            "layer": [
              {"mark": {"type": "bar", "stroke": "#333", "strokeWidth": 0.6}, "encoding": {"fill": {"field": "s", "type": "nominal", "scale": {"domain": ["Naïve","Sham","Crush","Crush+TEGBE","Crush+G-B","Crush+GBE"], "range": ["#f2f2f2","#b3b3b3","#000000","#4f4f4f","#dedede","#8f8f8f"]}, "legend": {"title": null, "orient": "none", "legendX": 10, "legendY": 37, "symbolType": "square", "symbolSize": 70, "symbolStrokeColor": "#555", "symbolStrokeWidth": 0.6, "labelFontSize": 12.5, "labelColor": "#000", "rowPadding": 7}}}},
              {"mark": {"type": "errorbar", "ticks": {"size": 5}, "color": "#8c8c8c"}, "encoding": {"yError": {"field": "e"}}},
              {"data": {"name": "annD"}, "mark": {"type": "text", "fontSize": 13, "fontWeight": "bold", "baseline": "middle", "color": "#000"}, "encoding": {"text": {"field": "t"}}}
            ]
          }]
        },
        {
          "title": {"text": "E", "anchor": "start", "fontSize": 24, "fontWeight": "normal", "offset": -24},
          "resolve": {"scale": {"x": "independent", "y": "independent", "color": "independent", "strokeDash": "independent", "strokeWidth": "independent"}, "legend": {"color": "independent", "strokeDash": "independent", "strokeWidth": "independent"}},
          "vconcat": [{
            "width": 636, "height": 378,
            "title": {"text": "Rota Rod Test", "fontSize": 18, "offset": -24},
            "data": {"name": "E"},
            "encoding": {
              "x": {"field": "w", "type": "ordinal", "bandPosition": 0.5, "scale": {"type": "band", "domain": ["wk (-2)","wk (-1)","wk (1)","wk (2)","wk (3)","wk (4)","wk (5)","wk (6)"], "paddingInner": 0, "paddingOuter": 0}, "axis": {"title": "Weeks Pre and Post Crush Injury", "labelAngle": 0, "tickBand": "extent", "labelFontSize": 11, "titleFontSize": 15.5, "titlePadding": 6, "labelPadding": 4}},
              "y": {"field": "v", "type": "quantitative", "scale": {"domain": [5, 25], "nice": false}, "axis": {"title": "Rota Rod speed values  (RPM) (Mean +/- SD)", "values": [5, 7, 9, 11, 13, 15, 17, 19, 21, 23, 25], "labelFontSize": 9.5, "labelFontWeight": "normal", "labelColor": "#555", "titleFontSize": 13.5}}
            },
            "layer": [
              {"mark": {"type": "errorbar", "ticks": {"size": 7}, "color": "#a8a8a8"}, "encoding": {"yError": {"field": "e"}}},
              {"mark": {"type": "line"}, "encoding": {
                "color": {"field": "s", "type": "nominal", "scale": {"domain": ["Naïve","Sham","Crush","Crush+TEGBE","Crush+G-B","Crush+GBE"], "range": ["#000","#000","#000","#8c8c8c","#000","#9a9a9a"]}, "legend": {"title": null, "orient": "bottom-right", "offset": 10, "symbolType": "stroke", "symbolSize": 625, "labelFontSize": 11, "rowPadding": -12}},
                "strokeDash": {"field": "s", "type": "nominal", "scale": {"domain": ["Naïve","Sham","Crush","Crush+TEGBE","Crush+G-B","Crush+GBE"], "range": [[1,0],[12,6],[2,3],[8,4,2,4],[16,5,3,5],[18,5]]}, "legend": {"title": null, "orient": "bottom-right", "offset": 10, "symbolType": "stroke", "symbolSize": 625, "labelFontSize": 11, "rowPadding": -12}},
                "strokeWidth": {"field": "s", "type": "nominal", "scale": {"domain": ["Naïve","Sham","Crush","Crush+TEGBE","Crush+G-B","Crush+GBE"], "range": [2,2.8,1.8,2.2,2.4,4.2]}, "legend": {"title": null, "orient": "bottom-right", "offset": 10, "symbolType": "stroke", "symbolSize": 625, "labelFontSize": 11, "rowPadding": -12}}
              }},
              {"transform": [{"filter": "datum.s == 'Crush+GBE'"}], "mark": {"type": "line", "color": "white", "strokeWidth": 1.4, "strokeDash": [18,5]}},
              {"mark": {"type": "circle", "color": "#000", "size": 30, "opacity": 1}, "encoding": {"detail": {"field": "s"}}},
              {"data": {"name": "annE"}, "mark": {"type": "text", "fontSize": 15, "fontWeight": "bold", "baseline": "middle", "color": "#000"}, "encoding": {"text": {"field": "t"}}},
              {"data": {"name": "annE2"}, "mark": {"type": "text", "fontSize": 15, "fontWeight": "bold", "baseline": "middle", "dx": 16, "color": "#000"}, "encoding": {"text": {"field": "t"}}}
            ]
          }]
        }
      ]
    }
  ]
}
